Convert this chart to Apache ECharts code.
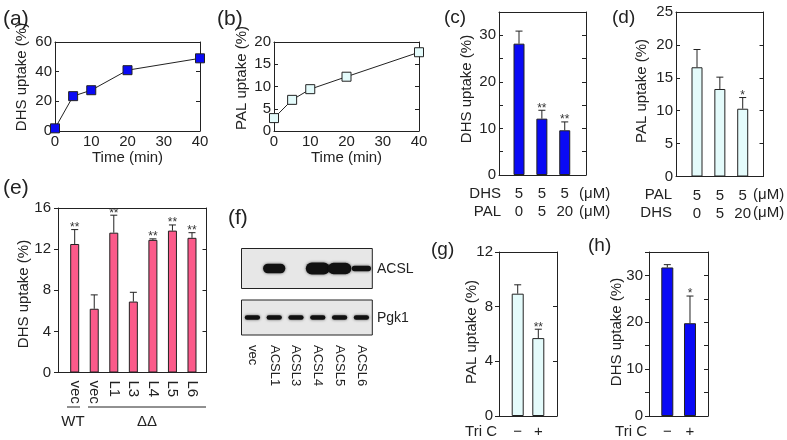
<!DOCTYPE html>
<html><head><meta charset="utf-8">
<script src="https://cdn.jsdelivr.net/npm/echarts@6/dist/echarts.min.js"></script>
<style>html,body{margin:0;padding:0;background:#fff}#c{width:787px;height:440px}</style>
</head><body><div id="c"></div>
<script>
// ---------- data ----------
const timeMin = [0, 5, 10, 20, 40];
const dhsUptakeTime = [1.8, 23.5, 27.5, 41, 49];
const palUptakeTime = [2.9, 7.0, 9.4, 12.2, 17.7];

const cDhs = ['5', '5', '5'];
const cPal = ['0', '5', '20'];
const cMean = [28.2, 12.1, 9.6];
const cErr = [2.7, 1.8, 1.8];
const cSig = ['', '**', '**'];

const dPal = ['5', '5', '5'];
const dDhs = ['0', '5', '20'];
const dMean = [16.6, 13.3, 10.3];
const dErr = [2.7, 1.8, 1.7];
const dSig = ['', '', '*'];

const eLabels = ['vec', 'vec', 'L1', 'L3', 'L4', 'L5', 'L6'];
const eMean = [12.5, 6.2, 13.6, 6.9, 12.9, 13.8, 13.1];
const eErr = [1.4, 1.35, 1.7, 0.9, 0.1, 0.55, 0.5];
const eSig = ['**', '', '**', '', '**', '**', '**'];

const fLanes = ['vec', 'ACSL1', 'ACSL3', 'ACSL4', 'ACSL5', 'ACSL6'];
const fAcsl = [0, 0.8, 0, 1.0, 0.95, 0.45];
const fPgk1 = [1, 1, 1, 1, 1, 1];

const triC = ['\u2212', '+'];
const gMean = [8.95, 5.7];
const gErr = [0.65, 0.65];
const gSig = ['', '**'];
const hMean = [31.7, 19.8];
const hErr = [0.6, 5.8];
const hSig = ['', '*'];

// ---------- styles ----------
const FONT = "'Liberation Sans', Arial, sans-serif";
const INK = '#222';
const BLUE = '#0a0af5';
const CYAN = '#e4fbfb';
const PINK = '#fb5a8a';

const grids = [], xAxes = [], yAxes = [], series = [], graphics = [];

function panel(g, o) {
  const gi = grids.length;
  grids.push({left: g[0], top: g[1], width: g[2], height: g[3]});
  const xi = xAxes.length, yi = yAxes.length;
  const ls = {color: INK, width: 1};
  xAxes.push({type: 'value', gridIndex: gi, position: 'bottom', min: o.xMin, max: o.xMax, interval: o.xInt,
    axisLine: {show: true, onZero: false, lineStyle: ls}, axisTick: {show: false}, splitLine: {show: false},
    axisLabel: Object.assign({color: INK, fontSize: 15, fontFamily: FONT, margin: 3}, o.xLabel || {}),
    name: o.xName || '', nameLocation: 'middle', nameGap: 17,
    nameTextStyle: {color: INK, fontSize: 15, fontFamily: FONT}});
  xAxes.push({type: 'value', gridIndex: gi, position: 'top', min: o.xMin, max: o.xMax,
    axisLine: {show: true, onZero: false, lineStyle: ls}, axisTick: {show: false}, axisLabel: {show: false}, splitLine: {show: false}});
  yAxes.push({type: 'value', gridIndex: gi, position: 'left', min: 0, max: o.yMax, interval: o.yInt,
    axisLine: {show: true, onZero: false, lineStyle: ls},
    axisTick: {show: true, inside: o.leftInside, length: 4, lineStyle: ls}, splitLine: {show: false},
    axisLabel: {color: INK, fontSize: 15, fontFamily: FONT, margin: o.yMargin,
      formatter: v => (Math.round(v) % o.yEvery === 0 ? String(Math.round(v)) : '')}});
  yAxes.push({type: 'value', gridIndex: gi, position: 'right', min: 0, max: o.yMax, interval: o.yInt,
    axisLine: {show: true, onZero: false, lineStyle: ls},
    axisTick: {show: true, inside: true, length: 4, lineStyle: ls}, axisLabel: {show: false}, splitLine: {show: false}});
  return {xi, yi};
}

function errRender(sig, capW) {
  return function (params, api) {
    const x = api.value(0), m = api.value(1), e = api.value(2);
    const p0 = api.coord([x, m]), p1 = api.coord([x, m + e]);
    const st = {stroke: INK, lineWidth: 1};
    const ch = [
      {type: 'line', shape: {x1: p0[0], y1: p0[1], x2: p1[0], y2: p1[1]}, style: st},
      {type: 'line', shape: {x1: p1[0] - capW / 2, y1: p1[1], x2: p1[0] + capW / 2, y2: p1[1]}, style: st}
    ];
    const s = sig[params.dataIndex];
    if (s) ch.push({type: 'text', x: p1[0], y: p1[1] - 2,
      style: {text: s, fill: '#333', font: '12px ' + FONT, align: 'center', verticalAlign: 'middle'}});
    return {type: 'group', children: ch};
  };
}

function barPanel(g, o, mean, err, sig, color, barW, capW) {
  const {xi, yi} = panel(g, o);
  series.push({type: 'bar', xAxisIndex: xi, yAxisIndex: yi, data: mean.map((v, i) => [i + 1, v]),
    barWidth: barW, itemStyle: {color, borderColor: INK, borderWidth: 1}});
  series.push({type: 'custom', xAxisIndex: xi, yAxisIndex: yi, z: 5,
    data: mean.map((v, i) => [i + 1, v, err[i]]), renderItem: errRender(sig, capW)});
}

function linePanel(g, o, ys, fill) {
  const {xi, yi} = panel(g, o);
  series.push({type: 'line', xAxisIndex: xi, yAxisIndex: yi, clip: false,
    data: timeMin.map((t, i) => [t, ys[i]]), symbol: 'rect', symbolSize: 9,
    lineStyle: {color: INK, width: 1}, itemStyle: {color: fill, borderColor: INK, borderWidth: 1}});
}

// (a)
linePanel([55, 42, 145, 89], {xMin: 0, xMax: 40, xInt: 10, yMax: 60, yInt: 20, yEvery: 20,
  leftInside: true, yMargin: 3, xName: 'Time (min)'}, dhsUptakeTime, BLUE);
// (b)
linePanel([274, 42, 145, 89], {xMin: 0, xMax: 40, xInt: 10, yMax: 20, yInt: 5, yEvery: 5,
  leftInside: true, yMargin: 3, xName: 'Time (min)'}, palUptakeTime, CYAN);
// (c)
barPanel([499, 12, 87, 163], {xMin: 0.125, xMax: 3.93, yMax: 35, yInt: 5, yEvery: 10, leftInside: true, yMargin: 3,
  xLabel: {customValues: [1, 2, 3], lineHeight: 18, margin: 10,
    formatter: v => cDhs[Math.round(v) - 1] + '\n' + cPal[Math.round(v) - 1]}},
  cMean, cErr, cSig, BLUE, 11, 7);
// (d)
barPanel([676, 12, 87.5, 164.5], {xMin: 0.081, xMax: 3.91, yMax: 25, yInt: 5, yEvery: 5, leftInside: true, yMargin: 3,
  xLabel: {customValues: [1, 2, 3], lineHeight: 18, margin: 10,
    formatter: v => dPal[Math.round(v) - 1] + '\n' + dDhs[Math.round(v) - 1]}},
  dMean, dErr, dSig, CYAN, 11, 7);
// (e)
barPanel([58, 208, 148.5, 164.5], {xMin: 0.146, xMax: 7.742, yMax: 16, yInt: 4, yEvery: 4, leftInside: false, yMargin: 7,
  xLabel: {customValues: [1, 2, 3, 4, 5, 6, 7], rotate: -90, margin: 8,
    formatter: v => eLabels[Math.round(v) - 1]}},
  eMean, eErr, eSig, PINK, 9, 7);
// (g)
barPanel([499, 252, 58, 164], {xMin: 0.092, xMax: 2.907, yMax: 12, yInt: 4, yEvery: 4, leftInside: false, yMargin: 6,
  xLabel: {customValues: [1, 2], margin: 8, formatter: v => triC[Math.round(v) - 1]}},
  gMean, gErr, gSig, CYAN, 12, 7);
// (h)
barPanel([649, 252, 59, 164], {xMin: 0.194, xMax: 2.793, yMax: 35, yInt: 5, yEvery: 10, leftInside: false, yMargin: 6,
  xLabel: {customValues: [1, 2], margin: 8, formatter: v => triC[Math.round(v) - 1]}},
  hMean, hErr, hSig, BLUE, 12, 7);

// (f) western blot
function blotGrid(g, showLabels) {
  const gi = grids.length;
  grids.push({left: g[0], top: g[1], width: g[2], height: g[3], show: true,
    borderColor: INK, borderWidth: 1, backgroundColor: '#e7e7e7'});
  const xi = xAxes.length, yi = yAxes.length;
  xAxes.push({type: 'category', gridIndex: gi, data: fLanes, boundaryGap: true,
    axisLine: {show: false}, axisTick: {show: false}, splitLine: {show: false},
    axisLabel: {show: showLabels, rotate: -90, margin: 10, color: INK, fontSize: 13, fontFamily: FONT}});
  yAxes.push({type: 'value', gridIndex: gi, min: 0, max: 1, show: false});
  return {xi, yi};
}
function bandRender(kind) {
  return function (params, api) {
    const s = api.value(1);
    if (!s) return null;
    const c = api.coord([api.value(0), 0.5]);
    const bw = api.size([1, 0])[0];
    let w, h;
    if (kind === 'acsl') { w = bw * (0.7 + 0.4 * s); h = 12 * s; }
    else { w = bw * 0.7 * s; h = 4.5 * s; }
    return {type: 'rect', shape: {x: c[0] - w / 2, y: c[1] - h / 2, width: w, height: h, r: h / 2},
      style: {fill: '#111', shadowBlur: 3, shadowColor: 'rgba(0,0,0,0.6)'}};
  };
}
{
  const up = blotGrid([241.5, 248.5, 130.8, 40], false);
  series.push({type: 'custom', xAxisIndex: up.xi, yAxisIndex: up.yi, data: fAcsl.map((v, i) => [i, v]), renderItem: bandRender('acsl')});
  const lo = blotGrid([241.5, 300, 130.8, 35], true);
  series.push({type: 'custom', xAxisIndex: lo.xi, yAxisIndex: lo.yi, data: fPgk1.map((v, i) => [i, v]), renderItem: bandRender('pgk')});
}

// ---------- text annotations ----------
function txt(x, y, t, size, align, extra) {
  graphics.push(Object.assign({type: 'text', x, y, silent: true,
    style: {text: t, fill: INK, font: size + 'px ' + FONT, align: align || 'left', verticalAlign: 'middle'}}, extra || {}));
}
function ytitle(x, y, t) { txt(x, y, t, 15, 'center', {rotation: Math.PI / 2}); }

txt(3, 19, '(a)', 21); txt(217, 19, '(b)', 21); txt(444, 18, '(c)', 19); txt(612, 18, '(d)', 19);
txt(3, 188, '(e)', 21); txt(228, 218, '(f)', 21); txt(431, 250, '(g)', 19); txt(588, 246, '(h)', 19);

ytitle(22, 77, 'DHS uptake (%)');
ytitle(242, 78, 'PAL uptake (%)');
ytitle(467, 89, 'DHS uptake (%)');
ytitle(642, 91, 'PAL uptake (%)');
ytitle(24, 294, 'DHS uptake (%)');
ytitle(472, 332, 'PAL uptake (%)');
ytitle(617, 332, 'DHS uptake (%)');

txt(501, 194, 'DHS', 15, 'right'); txt(501, 212, 'PAL', 15, 'right');
txt(579, 194, '(\u03bcM)', 15); txt(579, 212, '(\u03bcM)', 15);
txt(672, 195, 'PAL', 15, 'right'); txt(672, 213, 'DHS', 15, 'right');
txt(753, 195, '(\u03bcM)', 15); txt(753, 213, '(\u03bcM)', 15);

txt(497, 432, 'Tri C', 15, 'right');
txt(647, 432, 'Tri C', 15, 'right');

txt(377, 269, 'ACSL', 14); txt(377, 318, 'Pgk1', 14);

graphics.push({type: 'line', shape: {x1: 67, y1: 407, x2: 80, y2: 407}, style: {stroke: INK, lineWidth: 1}});
graphics.push({type: 'line', shape: {x1: 88, y1: 407, x2: 206, y2: 407}, style: {stroke: INK, lineWidth: 1}});
txt(73, 422, 'WT', 15, 'center');
txt(147, 422, '\u0394\u0394', 15, 'center');

const chart = echarts.init(document.getElementById('c'), null, {renderer: 'canvas'});
chart.setOption({
  animation: false,
  backgroundColor: '#fff',
  textStyle: {fontFamily: FONT},
  grid: grids, xAxis: xAxes, yAxis: yAxes, series, graphic: graphics
});
</script>
</body></html>
